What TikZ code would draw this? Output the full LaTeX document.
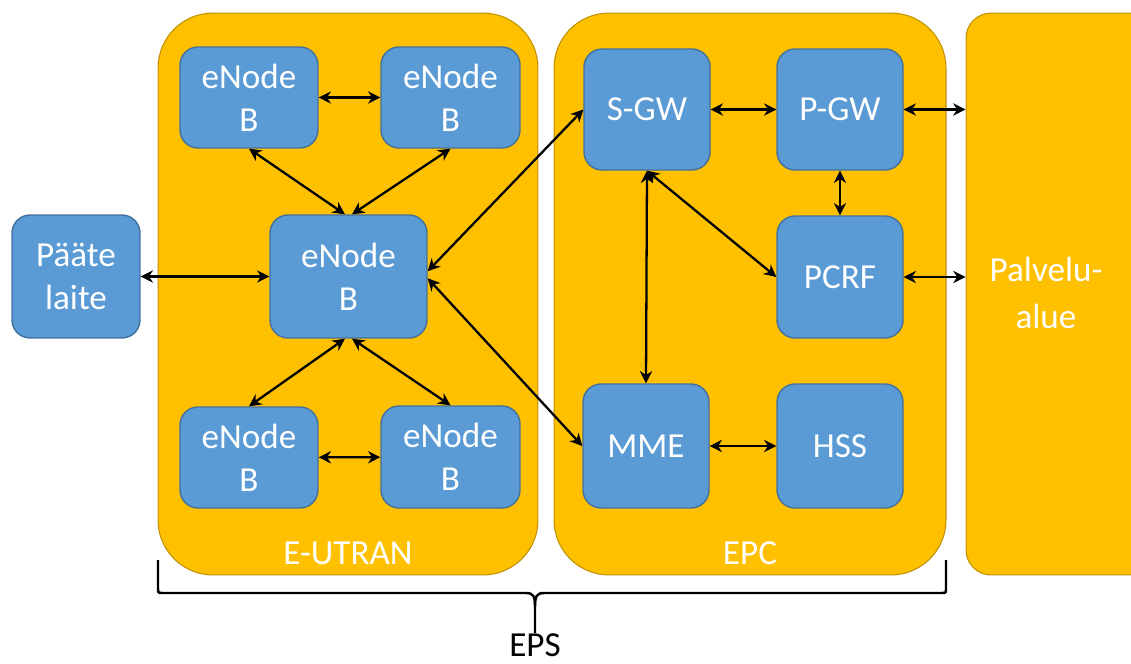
\documentclass[tikz,border=0pt]{standalone}
\usepackage{fontspec}
\setmainfont{Carlito}
\usetikzlibrary{arrows.meta}
\definecolor{AreaFill}{RGB}{255,192,0}
\definecolor{AreaLine}{RGB}{191,144,0}
\definecolor{BoxFill} {RGB}{91,155,213}
\definecolor{BoxLine} {RGB}{65,113,156}
\tikzset{
  nd_area/.style={rectangle,rounded corners=1.1cm,draw=AreaLine,fill=AreaFill,line width=0.6pt,minimum height=11.24cm,inner sep=0pt},
  nd_box/.style={rectangle,rounded corners=0.36cm,draw=BoxLine,fill=BoxFill,line width=0.8pt,inner sep=0pt,align=center,text=white,font=\fontsize{20}{24.5}\selectfont},
  nd_lbl/.style={inner sep=0pt,align=center,text=white,font=\fontsize{20}{24.5}\selectfont},
  arr/.style={{Stealth[length=7pt,width=7pt]}-{Stealth[length=7pt,width=7pt]},line width=1.3pt},
}

\begin{document}
\begin{tikzpicture}[x=0.02cm,y=-0.02cm]
\useasboundingbox (0,0) rectangle (1131,663);
\clip (0,0) rectangle (1131,663);
% areas
\node[nd_area,minimum width=7.6cm] at (348,294)(EU){};
\node[nd_area,minimum width=7.84cm] at (750,294)(EPC){};
\node[nd_area,minimum width=4.08cm,rounded corners=0.5cm] at (1068,294)(PA){};
\node[nd_lbl] at (348,553)(EUl){E-UTRAN};
\node[nd_lbl,font=\fontsize{20}{27}\selectfont] at (1046,293)(PAl){Palvelu-\\alue};
\node[nd_lbl] at (750,553)(EPCl){EPC};
% terminal + E-UTRAN
\node[nd_box,minimum width=2.56cm,minimum height=2.46cm] at (76,276.5)(UE){Pääte\\laite};
\node[nd_box,minimum width=2.76cm,minimum height=2.02cm] at (249,97.5)(E1){eNode\\B};
\node[nd_box,minimum width=2.78cm,minimum height=2.02cm] at (450.5,97.5)(E2){eNode\\B};
\node[nd_box,minimum width=3.14cm,minimum height=2.46cm] at (348.5,276.5)(E0){eNode\\B};
\node[nd_box,minimum width=2.76cm,minimum height=2.02cm] at (249,457.5)(E3){eNode\\B};
\node[nd_box,minimum width=2.78cm,minimum height=2.04cm] at (450.5,457)(E4){eNode\\B};
% EPC
\node[nd_box,minimum width=2.52cm,minimum height=2.42cm] at (647,109.5)(SGW){S-GW};
\node[nd_box,minimum width=2.52cm,minimum height=2.42cm] at (840,109.5)(PGW){P-GW};
\node[nd_box,minimum width=2.52cm,minimum height=2.44cm] at (840,277)(PCRF){PCRF};
\node[nd_box,minimum width=2.52cm,minimum height=2.48cm] at (646,446)(MME){MME};
\node[nd_box,minimum width=2.52cm,minimum height=2.48cm] at (840,446)(HSS){HSS};
% arrows
\draw[arr](E1)--(E2);
\draw[arr](E3)--(E4);
\draw[arr](E1.south)--([xshift=-2pt]E0.north);
\draw[arr](E2.south)--([xshift=2pt]E0.north);
\draw[arr](E3.north)--([xshift=-2pt]E0.south);
\draw[arr](E4.north)--([xshift=2pt]E0.south);
\draw[arr](UE)--(E0);
\draw[arr]([yshift=3pt]E0.east)--(SGW.west);
\draw[arr]([yshift=-1pt]E0.east)--(MME.west);
\draw[arr](SGW)--(PGW);
\draw[arr](PGW)--(PCRF);
\draw[arr](SGW.south)--(MME.north);
\draw[arr](SGW.south)--(PCRF.west);
\draw[arr](MME)--(HSS);
\draw[arr](PGW.east)--(PGW.east -| PA.west);
\draw[arr](PCRF.east)--(PCRF.east -| PA.west);
% brace
\draw[line width=1.4pt,line join=round](158,560)--(158,588) .. controls (158,593) .. (163,593)
  --(526,593) .. controls (533,593) and (535,596) .. (535,606) -- (535,633);
\draw[line width=1.4pt,line join=round](946,560)--(946,588) .. controls (946,593) .. (941,593)
  --(544,593) .. controls (537,593) and (535,596) .. (535,606);
\node[inner sep=0pt,font=\fontsize{20}{24.5}\selectfont] at (535,645)(EPS){EPS};
\end{tikzpicture}
\end{document}
